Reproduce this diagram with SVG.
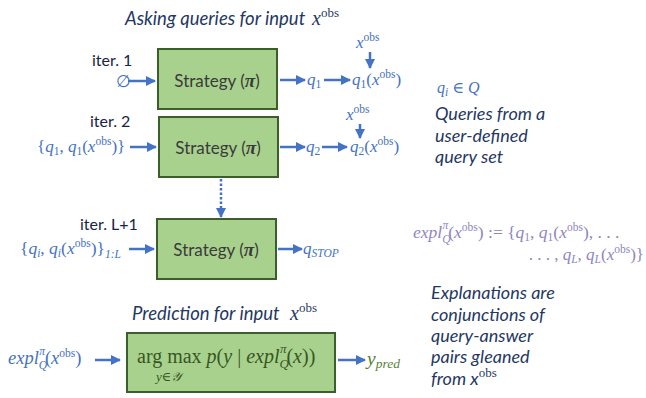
<svg xmlns="http://www.w3.org/2000/svg" width="646" height="398" viewBox="0 0 646 398">
<style>
.ttl{font-family:Lato,"Open Sans",sans-serif;font-style:italic;font-size:18.5px;fill:#1f3864}
.it{font-family:Lato,"Open Sans",sans-serif;font-style:italic;font-size:18px;fill:#1f3864}
.iter{font-family:Lato,"Open Sans",sans-serif;font-size:16px;fill:#1a2346}
.strat{font-family:Lato,"Open Sans",sans-serif;font-size:17px;fill:#3a3a3a}
.m{font-family:"Liberation Serif","DejaVu Serif",serif;font-style:italic;font-size:17px;fill:#4472c4}
.g{fill:#375623}
.gy{fill:#548235}
.p{fill:#8e86c0}
.up{font-style:normal}
.s{font-size:11.5px}
.box{fill:#a9d18e;stroke:#3b5e2b;stroke-width:2}
.ar{stroke:#4472c4;stroke-width:2.5;fill:none}
</style>
<defs>
<marker id="ah" viewBox="0 0 10 10" refX="9" refY="5" markerWidth="4" markerHeight="4" orient="auto" markerUnits="strokeWidth">
<path d="M0,0 L10,5 L0,10 z" fill="#4472c4"/>
</marker>
</defs>

<text class="ttl" x="125" y="25">Asking queries for input</text>
<text class="m" x="312" y="25" style="font-size:20px;fill:#1f3864">x<tspan class="up" style="font-size:13px" dy="-8">obs</tspan></text>

<g id="connectors">
<line class="ar" x1="128" y1="81" x2="155" y2="81" marker-end="url(#ah)"/>
<line class="ar" x1="280" y1="80" x2="305" y2="80" marker-end="url(#ah)"/>
<line class="ar" x1="324" y1="80" x2="350" y2="80" marker-end="url(#ah)"/>
<line class="ar" x1="370" y1="52" x2="370" y2="68" marker-end="url(#ah)"/>
<line class="ar" x1="130" y1="147" x2="156" y2="147" marker-end="url(#ah)"/>
<line class="ar" x1="280" y1="147" x2="305" y2="147" marker-end="url(#ah)"/>
<line class="ar" x1="322" y1="147" x2="347" y2="147" marker-end="url(#ah)"/>
<line class="ar" x1="360" y1="124" x2="360" y2="138" marker-end="url(#ah)"/>
<line class="ar" x1="221" y1="179" x2="221" y2="217" stroke-dasharray="2.5,2" marker-end="url(#ah)"/>
<line class="ar" x1="129" y1="249" x2="154" y2="249" marker-end="url(#ah)"/>
<line class="ar" x1="278" y1="249" x2="302" y2="249" marker-end="url(#ah)"/>
<line class="ar" x1="95" y1="360" x2="120" y2="360" marker-end="url(#ah)"/>
<line class="ar" x1="338" y1="360" x2="365" y2="360" marker-end="url(#ah)"/>
</g>

<g id="iter1">
<text class="iter" x="92" y="66">iter. 1</text>
<text class="m up" x="116" y="87">∅</text>
</g>
<g id="strategy1">
<rect class="box" x="158" y="49" width="119" height="60"/>
<text class="strat" x="217" y="87" text-anchor="middle">Strategy (<tspan font-weight="bold" font-style="italic" font-family="Liberation Serif,serif" font-size="19">π</tspan>)</text>
</g>
<g id="out1">
<text class="m" x="307" y="85">q<tspan class="up s" dy="3">1</tspan></text>
<text class="m" x="356" y="48">x<tspan class="up s" dy="-7">obs</tspan></text>
<text class="m" x="352" y="85">q<tspan class="up s" dy="3">1</tspan><tspan class="up" dy="-3">(</tspan>x<tspan class="up s" dy="-7">obs</tspan><tspan class="up" dy="7">)</tspan></text>
</g>

<g id="iter2">
<text class="iter" x="90" y="127">iter. 2</text>
<text class="m" x="37" y="152"><tspan class="up">{</tspan>q<tspan class="up s" dy="3">1</tspan><tspan class="up" dy="-3">, </tspan>q<tspan class="up s" dy="3">1</tspan><tspan class="up" dy="-3">(</tspan>x<tspan class="up s" dy="-7">obs</tspan><tspan class="up" dy="7">)}</tspan></text>
</g>
<g id="strategy2">
<rect class="box" x="159" y="117" width="119" height="60"/>
<text class="strat" x="218" y="154" text-anchor="middle">Strategy (<tspan font-weight="bold" font-style="italic" font-family="Liberation Serif,serif" font-size="19">π</tspan>)</text>
</g>
<g id="out2">
<text class="m" x="306" y="152">q<tspan class="up s" dy="3">2</tspan></text>
<text class="m" x="346" y="120">x<tspan class="up s" dy="-7">obs</tspan></text>
<text class="m" x="350" y="152">q<tspan class="up s" dy="3">2</tspan><tspan class="up" dy="-3">(</tspan>x<tspan class="up s" dy="-7">obs</tspan><tspan class="up" dy="7">)</tspan></text>
</g>

<g id="iter3">
<text class="iter" x="80" y="230">iter. L+1</text>
<text class="m" x="20" y="254" style="font-size:17.5px"><tspan class="up">{</tspan>q<tspan class="s" dy="3">i</tspan><tspan class="up" dy="-3">, </tspan>q<tspan class="s" dy="3">i</tspan><tspan class="up" dy="-3">(</tspan>x<tspan class="up s" dy="-7">obs</tspan><tspan class="up" dy="7">)}</tspan><tspan class="s" dy="4">1:L</tspan></text>
</g>
<g id="strategy3">
<rect class="box" x="157" y="219" width="119" height="60"/>
<text class="strat" x="216" y="256" text-anchor="middle">Strategy (<tspan font-weight="bold" font-style="italic" font-family="Liberation Serif,serif" font-size="19">π</tspan>)</text>
</g>
<g id="stop">
<text class="m" x="303" y="254">q<tspan class="s" dy="3">STOP</tspan></text>
</g>

<text class="ttl" x="132" y="320">Prediction for input</text>
<text class="m" x="290" y="320" style="font-size:20px;fill:#1f3864">x<tspan class="up" style="font-size:13px" dy="-8">obs</tspan></text>

<g id="explin">
<text class="m" x="8" y="364" style="font-size:18.5px">expl<tspan class="s" dy="5">Q</tspan><tspan class="s" dx="-8" dy="-14">π</tspan><tspan class="up" dy="9">(</tspan>x<tspan class="up s" dy="-7">obs</tspan><tspan class="up" dy="7">)</tspan></text>
</g>
<g id="predictor">
<rect class="box" x="127" y="333" width="208" height="59"/>
<text class="m g" x="137" y="363" style="font-size:20px"><tspan class="up">arg max </tspan>p<tspan class="up">(</tspan>y<tspan class="up"> | </tspan>expl<tspan style="font-size:13px" dy="5">Q</tspan><tspan style="font-size:13px" dx="-9" dy="-15">π</tspan><tspan class="up" dy="10">(</tspan>x<tspan class="up">))</tspan></text>
<text class="m g" x="156" y="381" style="font-size:13px">y<tspan class="up">∈</tspan>𝒴</text>
</g>
<g id="ypred">
<text class="m gy" x="367" y="365" style="font-size:19.5px">y<tspan style="font-size:13.5px" dy="3">pred</tspan></text>
</g>

<g id="qset">
<text class="m" x="437" y="93" style="font-size:16px">q<tspan class="s" dy="3">i</tspan><tspan class="up" dy="-3"> ∈ </tspan>Q</text>
<text class="it" x="435" y="120">Queries from a</text>
<text class="it" x="435" y="142">user-defined</text>
<text class="it" x="435" y="163">query set</text>
</g>

<g id="explanation">
<text class="m p" x="413" y="238" style="font-size:17.5px">expl<tspan class="s" dy="5">Q</tspan><tspan class="s" dx="-8" dy="-14">π</tspan><tspan class="up" dy="9">(</tspan>x<tspan class="up s" dy="-7">obs</tspan><tspan class="up" dy="7">) := {</tspan>q<tspan class="up s" dy="3">1</tspan><tspan class="up" dy="-3">, </tspan>q<tspan class="up s" dy="3">1</tspan><tspan class="up" dy="-3">(</tspan>x<tspan class="up s" dy="-7">obs</tspan><tspan class="up" dy="7">), . . .</tspan></text>
<text class="m p" x="644" y="260" text-anchor="end" style="font-size:17px"><tspan class="up">. . . , </tspan>q<tspan class="s" dy="3">L</tspan><tspan class="up" dy="-3">, </tspan>q<tspan class="s" dy="3">L</tspan><tspan class="up" dy="-3">(</tspan>x<tspan class="up s" dy="-7">obs</tspan><tspan class="up" dy="7">)}</tspan></text>
<text class="it" x="431" y="299">Explanations are</text>
<text class="it" x="431" y="321">conjunctions of</text>
<text class="it" x="431" y="342">query-answer</text>
<text class="it" x="431" y="363">pairs gleaned</text>
<text class="it" x="431" y="385">from x<tspan class="up" style="font-family:'Liberation Serif',serif;font-size:13px" dy="-8">obs</tspan></text>
</g>
</svg>
